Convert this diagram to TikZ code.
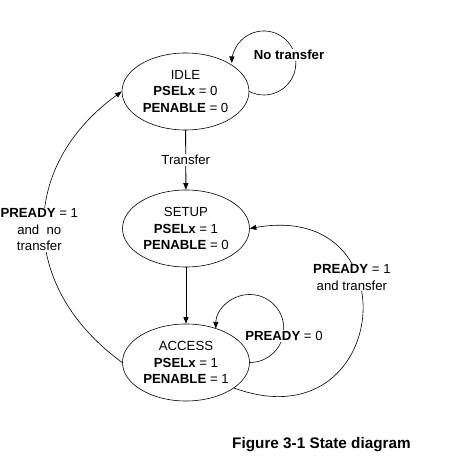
\documentclass[tikz,border=0pt]{standalone}
\usepackage{fontspec}
\setmainfont{Liberation Sans}
\usetikzlibrary{shapes.geometric,arrows.meta}

\begin{document}
\begin{tikzpicture}[line cap=round,line join=round,x=1pt,y=1pt,
    >={Triangle[length=6.5pt,width=5pt]},
    state/.style={draw,ellipse,line width=0.6pt,minimum width=127pt,minimum height=77pt,
        inner sep=0pt,align=center,font=\fontsize{13.2}{16.5}\selectfont},
    lbl/.style={fill=white,inner sep=1pt,align=center,font=\fontsize{13.2}{16.5}\selectfont},
    trans/.style={->,line width=0.6pt}]

    \useasboundingbox (0,0) rectangle (457,469);

    % states
    \node[state] (idle) at (185.5,377.5) {IDLE\\\textbf{PSELx} = 0\\\textbf{PENABLE} = 0};
    \node[state] (setup) at (186,240.5) {SETUP\\\textbf{PSELx} = 1\\\textbf{PENABLE} = 0};
    \node[state] (access) at (186,106.5) {ACCESS\\\textbf{PSELx} = 1\\\textbf{PENABLE} = 1};

    % straight transitions
    \draw[trans,line width=0.9pt] (idle) -- node[lbl] (transfer) {Transfer} (setup);
    \draw[trans,line width=0.9pt] (setup) -- (access);

    % self loops
    \draw[trans] (idle.east) arc[start angle=-117,end angle=180,radius=32];
    \node[lbl] (notransfer) at (289,414) {\textbf{No transfer}};

    \draw[trans] (access.east) arc[start angle=-90,end angle=180,radius=34];
    \node[lbl] (readyzero) at (284,133) {\textbf{PREADY} = 0};

    % back transitions
    \draw[trans] (access.-28) .. controls +(-20:166) and +(10:166) ..
        node[lbl,pos=.66,xshift=-2,yshift=-6] (readytransfer) {\textbf{PREADY} = 1\\and transfer} (setup.east);
    \draw[trans] (access.west) .. controls +(144:128) and +(216:128) ..
        node[lbl,pos=.5,xshift=-5,yshift=-3] (readyidle) {\textbf{PREADY} = 1\\and~~no\\transfer} (idle.west);

    \node[anchor=base,font=\bfseries\fontsize{15.3}{18}\selectfont] (caption) at (321.5,20.7) {Figure 3-1 State diagram};
\end{tikzpicture}
\end{document}
